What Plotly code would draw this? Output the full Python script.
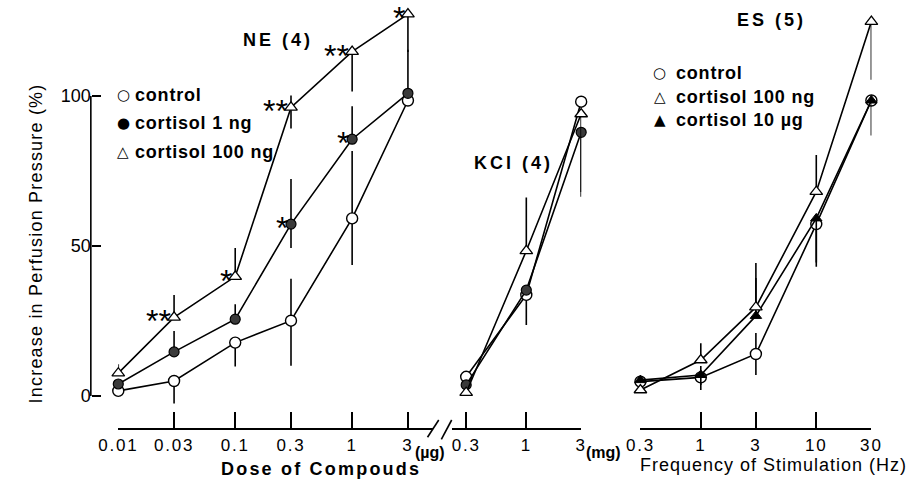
import numpy as np
import plotly.graph_objects as go

# ---------------- data ----------------
ne_doses = [0.01, 0.03, 0.1, 0.3, 1, 3]
ne_tick_labels = ["0.01", "0.03", "0.1", "0.3", "1", "3"]
ne_control = [1.7, 5.0, 17.8, 25.1, 59.2, 98.5]
ne_control_up = [0, 0, 0, 14, 22.5, 0]
ne_control_dn = [0, 7.5, 8, 15, 15.5, 0]
ne_cort1ng = [4.0, 14.7, 25.6, 57.3, 85.6, 100.9]
ne_cort1ng_up = [0, 7, 5, 15, 11, 14.5]
ne_cort1ng_dn = [0, 0, 0, 8, 0, 0]
ne_cort100ng = [7.6, 26.2, 39.8, 96.2, 114.8, 127.3]
ne_cort100ng_up = [3, 7.5, 9.5, 4, 0, 0]
ne_cort100ng_dn = [0, 0, 0, 7, 13.3, 12.6]
ne_sig_1ng = ["", "", "", "*", "*", ""]
ne_sig_100ng = ["", "**", "*", "**", "**", "*"]

kcl_doses = [0.3, 1, 3]
kcl_tick_labels = ["0.3", "1", "3"]
kcl_control = [6.4, 33.7, 98.1]
kcl_control_up = [0, 0, 0]
kcl_control_dn = [0, 10, 0]
kcl_cort1ng = [3.7, 35.3, 87.9]
kcl_cort1ng_up = [0, 0, 0]
kcl_cort1ng_dn = [0, 0, 21.5]
kcl_cort100ng = [1.1, 48.4, 94.0]
kcl_cort100ng_up = [0, 17.8, 0]
kcl_cort100ng_dn = [0, 0, 26]

es_freqs = [0.3, 1, 3, 10, 30]
es_tick_labels = ["0.3", "1", "3", "10", "30"]
es_control = [4.8, 6.2, 14.0, 57.3, 98.5]
es_control_up = [0, 0, 7, 0, 0]
es_control_dn = [0, 4.2, 7, 14.2, 0]
es_cort100ng = [2.0, 12.0, 29.6, 68.1, 124.8]
es_cort100ng_up = [0, 5.6, 14.7, 12.2, 0]
es_cort100ng_dn = [0, 0, 0, 0, 19.4]
es_cort10ug = [5.3, 7.0, 26.7, 59.2, 98.5]
es_cort10ug_up = [0, 3, 12.6, 0, 0]
es_cort10ug_dn = [0, 3.3, 0, 14.7, 11.7]

y_tick_vals = [0, 50, 100]

# ---------------- layout helpers ----------------
W, H = 922, 489
FONT = "Liberation Sans, Arial, sans-serif"
SYMFONT = "DejaVu Sans, sans-serif"


def px(x):
    return x / W


def py(y):
    return 1 - y / H


def spaced(text, sp):
    return f'<span style="letter-spacing:{sp}px">{text}</span>'


STYLES = {
    "control": dict(symbol="circle", size=11, color="white", line=dict(color="black", width=1.4)),
    "1ng": dict(symbol="circle", size=10, color="#3a3a3a", line=dict(color="black", width=1.2)),
    "100ng": dict(symbol="triangle-up", size=11, color="white", line=dict(color="black", width=1.3)),
    "10ug": dict(symbol="triangle-up", size=10, color="black", line=dict(color="black", width=1)),
}

fig = go.Figure()


def add_series(xs, ys, up, dn, style, xaxis):
    fig.add_trace(go.Scatter(
        x=xs, y=ys, mode="lines+markers", xaxis=xaxis, yaxis="y",
        line=dict(color="black", width=1.6),
        marker=STYLES[style],
        error_y=dict(type="data", symmetric=False, array=up, arrayminus=dn,
                     width=0, thickness=1.6, color="black"),
        cliponaxis=False, showlegend=False, hoverinfo="skip",
    ))


add_series(ne_doses, ne_control, ne_control_up, ne_control_dn, "control", "x")
add_series(ne_doses, ne_cort1ng, ne_cort1ng_up, ne_cort1ng_dn, "1ng", "x")
add_series(ne_doses, ne_cort100ng, ne_cort100ng_up, ne_cort100ng_dn, "100ng", "x")

add_series(kcl_doses, kcl_control, kcl_control_up, kcl_control_dn, "control", "x2")
add_series(kcl_doses, kcl_cort1ng, kcl_cort1ng_up, kcl_cort1ng_dn, "1ng", "x2")
add_series(kcl_doses, kcl_cort100ng, kcl_cort100ng_up, kcl_cort100ng_dn, "100ng", "x2")

add_series(es_freqs, es_control, es_control_up, es_control_dn, "control", "x3")
add_series(es_freqs, es_cort10ug, es_cort10ug_up, es_cort10ug_dn, "10ug", "x3")
add_series(es_freqs, es_cort100ng, es_cort100ng_up, es_cort100ng_dn, "100ng", "x3")

# axes geometry (pixels)
X_AXIS_Y = 429.3
Y_AXIS_X = 73.3
PX_PER_DEC = 121.0
ne_left, ne_right = 101.7, 427.0
kcl_left, kcl_right = 447.0, 580.7
es_left, es_right = 642.0, 881.0

ne_r0 = np.log10(ne_doses[0])
ne_r1 = ne_r0 + (ne_right - ne_left) / PX_PER_DEC
kcl_r1 = np.log10(kcl_doses[-1])
kcl_r0 = kcl_r1 - (kcl_right - kcl_left) / 119.0
es_r0, es_r1 = np.log10(es_freqs[0]), np.log10(es_freqs[-1])

tickfont = dict(family=FONT, size=17, color="black")


def xaxis_cfg(dom, rng, vals, labels):
    return dict(
        type="log", domain=[px(dom[0]), px(dom[1])], range=list(rng),
        anchor="free", position=py(X_AXIS_Y), showline=True, linecolor="black",
        linewidth=1.6, ticks="inside", ticklen=17, tickwidth=1.6, tickcolor="black",
        tickvals=vals, ticktext=[spaced(t, 1.8) for t in labels], tickfont=tickfont,
        showgrid=False, zeroline=False,
    )


# y range so that 0 sits at pixel 396 and 100 at 96
Y0_PX, PX_PER_UNIT = 396.0, 3.0
y_lo = -(H - Y0_PX) / PX_PER_UNIT
y_hi = y_lo + H / PX_PER_UNIT

fig.update_layout(
    width=W, height=H, margin=dict(l=0, r=0, t=0, b=0),
    paper_bgcolor="white", plot_bgcolor="white",
    font=dict(family=FONT, color="black"),
    xaxis=xaxis_cfg((ne_left, ne_right), (ne_r0, ne_r1), ne_doses, ne_tick_labels),
    xaxis2=xaxis_cfg((kcl_left, kcl_right), (kcl_r0, kcl_r1), kcl_doses, kcl_tick_labels),
    xaxis3=xaxis_cfg((es_left, es_right), (es_r0, es_r1), es_freqs, es_tick_labels),
    yaxis=dict(
        domain=[0, 1], range=[y_lo, y_hi], anchor="free", position=px(Y_AXIS_X),
        showline=False, ticks="inside", ticklen=9, tickwidth=1.6, tickcolor="black",
        tickvals=y_tick_vals, tickfont=dict(family=FONT, size=18, color="black"),
        showgrid=False, zeroline=False,
    ),
)

shapes = [
    # y axis line only between 0 and 100
    dict(type="line", xref="paper", yref="y", x0=px(Y_AXIS_X), x1=px(Y_AXIS_X),
         y0=y_tick_vals[0], y1=y_tick_vals[-1], line=dict(color="black", width=1.6)),
    # axis break marks
    dict(type="line", xref="paper", yref="paper", x0=px(421.7), y0=py(437.3), x1=px(433.3), y1=py(420),
         line=dict(color="black", width=1.6)),
    dict(type="line", xref="paper", yref="paper", x0=px(436), y0=py(439.3), x1=px(446.7), y1=py(420),
         line=dict(color="black", width=1.6)),
]
fig.update_layout(shapes=shapes)

ann = []


def text(x, y, t, size=18, bold=False, xanchor="center", yanchor="middle", family=FONT, angle=0):
    ann.append(dict(
        x=px(x), y=py(y), xref="paper", yref="paper", text=t, showarrow=False,
        xanchor=xanchor, yanchor=yanchor, textangle=angle,
        font=dict(family=family, size=size, color="black", weight="bold" if bold else "normal"),
    ))


# panel titles
text(267, 40, spaced("NE (4)", 3), size=18, bold=True)
text(511, 163, spaced("KCl (4)", 3), size=18, bold=True)
text(778, 20, spaced("ES (5)", 3), size=18, bold=True)

# axis titles
text(311, 469, spaced("Dose of Compouds", 2.2), size=18, bold=True)
text(780, 465, spaced("Frequency of Stimulation (Hz)", 1), size=18)
text(17, 243, spaced("Increase in Perfusion Pressure (%)", 1.2), size=18, angle=-90)

# units
text(424, 452, "(µg)", size=16, bold=True)
text(604, 452, "(mg)", size=16, bold=True)

# legends
ne_legend = [("○", "control"), ("●", "cortisol 1 ng"), ("△", "cortisol 100 ng")]
for i, (sym, lab) in enumerate(ne_legend):
    yy = 95 + 28.3 * i
    text(107, yy, sym, size=15, family=SYMFONT)
    text(117, yy, spaced(lab, 0.8), size=18, bold=True, xanchor="left")

es_legend = [("○", "control"), ("△", "cortisol 100 ng"), ("▲", "cortisol 10 µg")]
for i, (sym, lab) in enumerate(es_legend):
    yy = 73.3 + 23.4 * i
    text(662, yy, sym, size=15, family=SYMFONT)
    text(677, yy, spaced(lab, 0.8), size=18, bold=True, xanchor="left")

# significance asterisks
for doses, vals, sig in [(ne_doses, ne_cort1ng, ne_sig_1ng), (ne_doses, ne_cort100ng, ne_sig_100ng)]:
    for d, v, s in zip(doses, vals, sig):
        if s:
            ann.append(dict(
                x=np.log10(d), y=v, xref="x", yref="y", text=s, showarrow=False,
                xanchor="right", yanchor="middle", xshift=-1, yshift=-4,
                font=dict(family=FONT, size=32, color="black"),
            ))

fig.update_layout(annotations=ann)

fig.write_html("out.html")
